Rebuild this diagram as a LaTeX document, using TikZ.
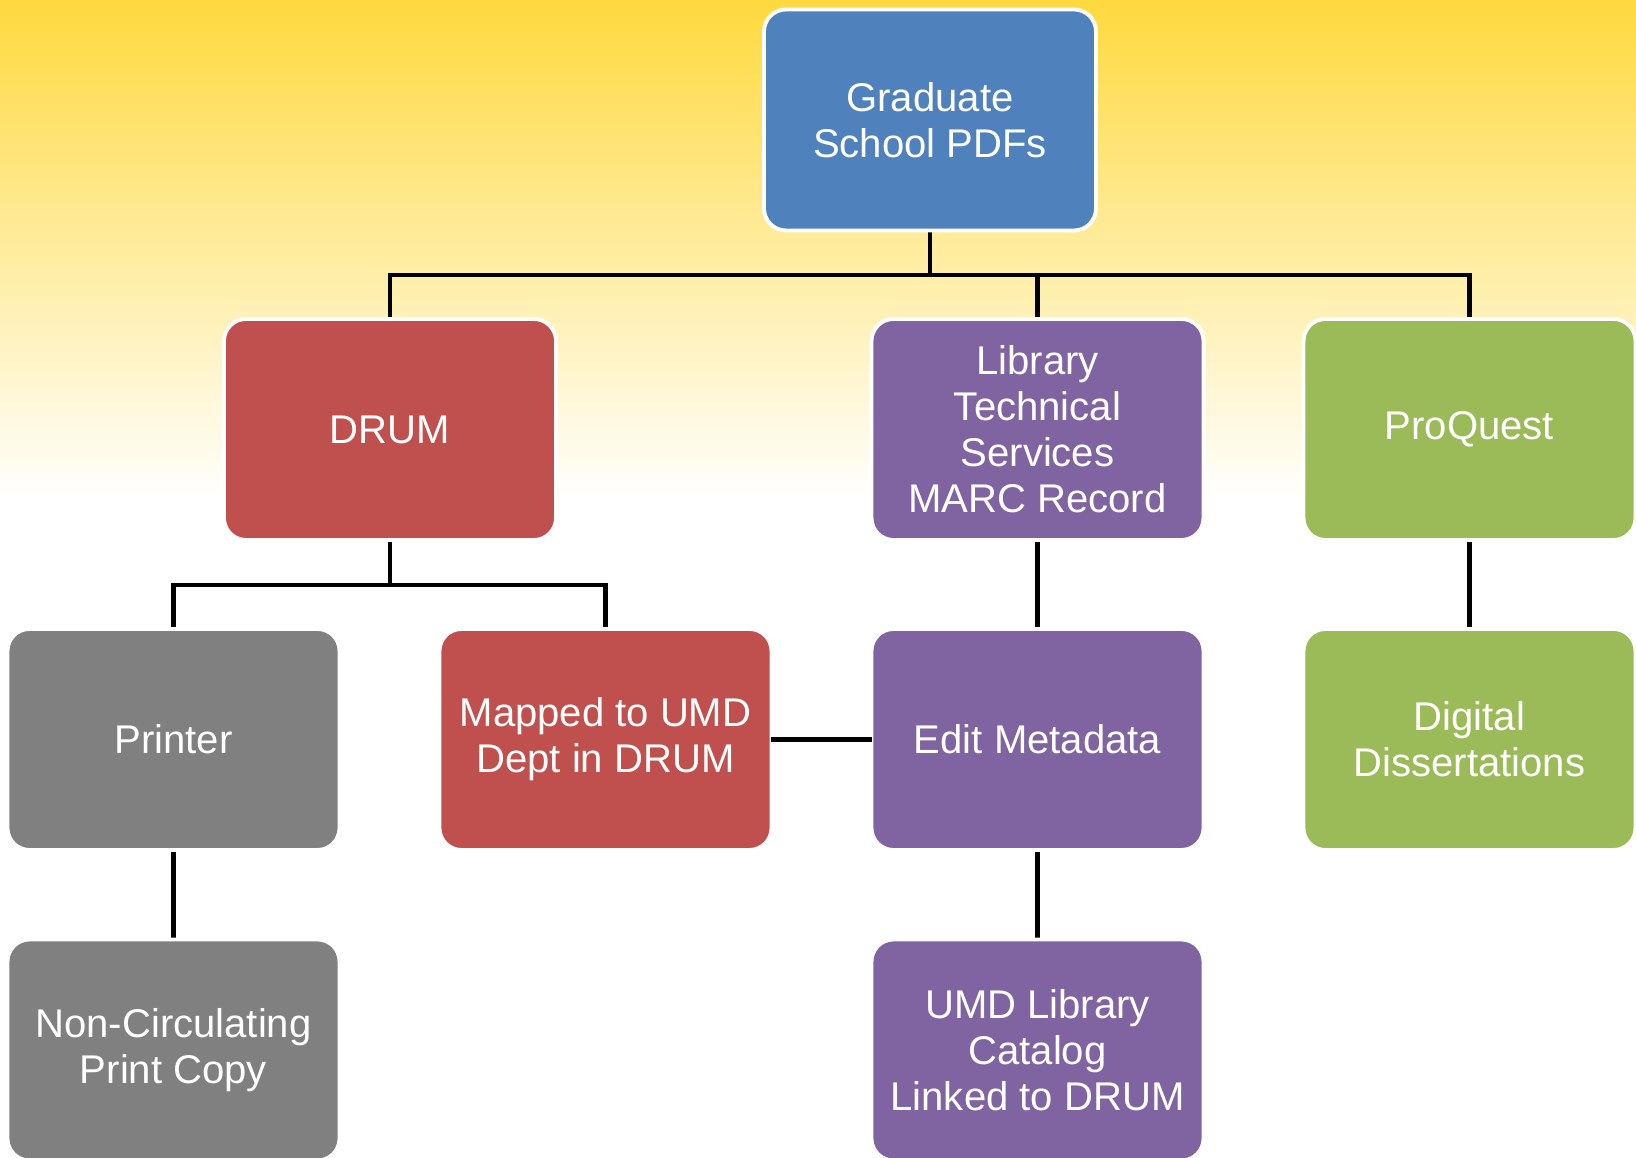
\documentclass[tikz,border=0pt]{standalone}
\usepackage{fontspec}
\setmainfont{Liberation Sans}
\usetikzlibrary{backgrounds}
\definecolor{gsblue}{HTML}{4F81BD}
\definecolor{drumred}{HTML}{C0504D}
\definecolor{ltspurple}{HTML}{8064A2}
\definecolor{pqgreen}{HTML}{9BBB59}
\definecolor{prngray}{HTML}{808080}
\definecolor{topyellow}{RGB}{255,217,62}

\begin{document}
\begin{tikzpicture}[
		box/.style={rectangle, rounded corners=0.22cm, draw=white, line width=1.1pt,
			minimum width=3.32cm, minimum height=2.21cm, text=white, align=center,
			font=\fontsize{11.4}{13.1}\selectfont},
		link/.style={line width=1.15pt, black}
	]
  \useasboundingbox (0,0) rectangle (16.36,11.58);
  \node (grad) [box, fill=gsblue] at (9.30cm, 10.38cm) {Graduate\\School PDFs};
  \node (drum) [box, fill=drumred] at (3.90cm, 7.285cm) {DRUM};
  \node (lts) [box, fill=ltspurple] at (10.375cm, 7.285cm) {Library\\Technical\\Services\\MARC Record};
  \node (pq) [box, fill=pqgreen] at (14.695cm, 7.285cm) {ProQuest};
  \node (prn) [box, fill=prngray] at (1.735cm, 4.185cm) {Printer};
  \node (map) [box, fill=drumred] at (6.055cm, 4.185cm) {Mapped to UMD\\Dept in DRUM};
  \node (edit) [box, fill=ltspurple] at (10.375cm, 4.185cm) {Edit Metadata};
  \node (dd) [box, fill=pqgreen] at (14.695cm, 4.185cm) {Digital\\Dissertations};
  \node (ncp) [box, fill=prngray] at (1.735cm, 1.08cm) {Non-Circulating\\Print Copy};
  \node (cat) [box, fill=ltspurple] at (10.375cm, 1.08cm) {UMD Library\\Catalog\\Linked to DRUM};
  \coordinate (bus) at (9.30cm, 8.83cm);
  \coordinate (drumbus) at (3.90cm, 5.73cm);
  \draw[link, shorten <=-0.6pt, shorten >=-0.6pt] (map.east) -- (edit.west);
  \begin{scope}[on background layer]
    \fill[white] (0,0) rectangle (16.36,11.58);
    \shade[top color=topyellow, bottom color=white] (0,6.58) rectangle (16.36,11.58);
    \draw[link] (grad) -- (bus);
    \draw[link] (drum) |- (bus) -| (pq);
    \draw[link] (lts) -- (lts |- bus);
    \draw[link] (lts) -- (edit);
    \draw[link] (edit) -- (cat);
    \draw[link] (pq) -- (dd);
    \draw[link] (drum) -- (drumbus);
    \draw[link] (prn) |- (drumbus) -| (map);
    \draw[link] (prn) -- (ncp);
  \end{scope}
\end{tikzpicture}
\end{document}
